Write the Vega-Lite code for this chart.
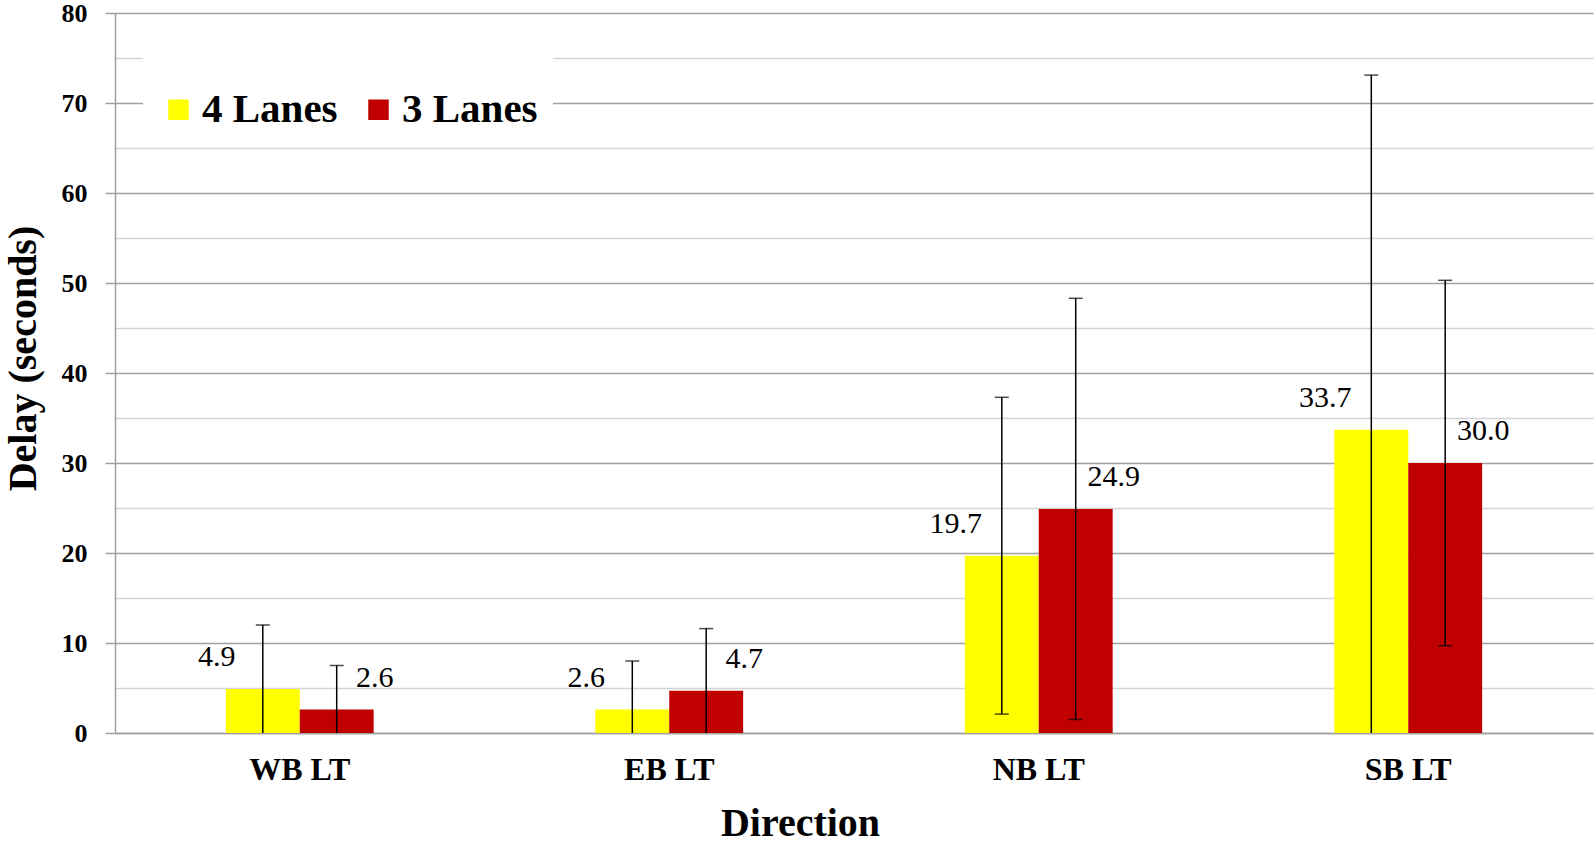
{
  "$schema": "https://vega.github.io/schema/vega-lite/v6.json",
  "width": 1478,
  "height": 720,
  "autosize": {"type": "none"},
  "padding": {"left": 115, "top": 13, "right": 1, "bottom": 113},
  "background": "white",
  "config": {"view": {"stroke": null}, "font": "Liberation Serif"},
  "data": {
    "values": [
      {"direction": "WB LT", "lanes": "4 Lanes", "delay": 4.9, "lo": 0, "hi": 12.0},
      {"direction": "WB LT", "lanes": "3 Lanes", "delay": 2.6, "lo": 0, "hi": 7.5},
      {"direction": "EB LT", "lanes": "4 Lanes", "delay": 2.6, "lo": 0, "hi": 8.0},
      {"direction": "EB LT", "lanes": "3 Lanes", "delay": 4.7, "lo": 0, "hi": 11.6},
      {"direction": "NB LT", "lanes": "4 Lanes", "delay": 19.7, "lo": 2.1, "hi": 37.3},
      {"direction": "NB LT", "lanes": "3 Lanes", "delay": 24.9, "lo": 1.5, "hi": 48.3},
      {"direction": "SB LT", "lanes": "4 Lanes", "delay": 33.7, "lo": 0, "hi": 73.1},
      {"direction": "SB LT", "lanes": "3 Lanes", "delay": 30.0, "lo": 9.7, "hi": 50.3}
    ]
  },
  "encoding": {
    "x": {
      "field": "direction",
      "type": "nominal",
      "sort": ["WB LT", "EB LT", "NB LT", "SB LT"],
      "scale": {"paddingInner": 0.6, "paddingOuter": 0.3},
      "axis": {
        "title": "Direction",
        "labelAngle": 0,
        "labelFont": "Liberation Serif",
        "labelFontSize": 32,
        "labelFontWeight": "bold",
        "labelColor": "black",
        "labelPadding": 21,
        "ticks": false,
        "domainColor": "#a0a0a0",
        "domainWidth": 1.5,
        "titleFont": "Liberation Serif",
        "titleFontSize": 40,
        "titleFontWeight": "bold",
        "titleColor": "black",
        "titleX": 685,
        "titleY": 102,
        "titleAlign": "center",
        "titleBaseline": "alphabetic"
      }
    },
    "xOffset": {
      "field": "lanes",
      "type": "nominal",
      "sort": ["4 Lanes", "3 Lanes"],
      "scale": {"paddingInner": 0, "paddingOuter": 0}
    }
  },
  "layer": [
    {
      "mark": {"type": "bar"},
      "encoding": {
        "y": {
          "field": "delay",
          "type": "quantitative",
          "scale": {"domain": [0, 80], "nice": false},
          "axis": {
            "title": "Delay (seconds)",
            "values": [0, 5, 10, 15, 20, 25, 30, 35, 40, 45, 50, 55, 60, 65, 70, 75, 80],
            "labelExpr": "datum.value % 10 === 0 ? datum.label : ''",
            "labelFont": "Liberation Serif",
            "labelFontSize": 26,
            "labelFontWeight": "bold",
            "labelColor": "black",
            "labelPadding": 18,
            "tickSize": 10,
            "tickWidth": 1.5,
            "tickColor": {"condition": {"test": "datum.value % 10 === 0", "value": "#a0a0a0"}, "value": "transparent"},
            "grid": true,
            "gridWidth": 1.5,
            "gridColor": {"condition": {"test": "datum.value % 10 === 0", "value": "#a0a0a0"}, "value": "#d4d4d4"},
            "domainColor": "#a0a0a0",
            "domainWidth": 1.5,
            "titleFont": "Liberation Serif",
            "titleFontSize": 40,
            "titleFontWeight": "bold",
            "titleColor": "black",
            "titleAngle": -90,
            "titleX": -92,
            "titleY": 345,
            "titleAlign": "center",
            "titleBaseline": "middle"
          }
        },
        "color": {
          "field": "lanes",
          "type": "nominal",
          "sort": ["4 Lanes", "3 Lanes"],
          "scale": {"domain": ["4 Lanes", "3 Lanes"], "range": ["#FFFF00", "#C00000"]},
          "legend": {
            "orient": "none",
            "legendX": 28,
            "legendY": 34,
            "direction": "horizontal",
            "title": " ",
            "titleFontSize": 22,
            "titlePadding": 5,
            "fillColor": "white",
            "padding": 15,
            "symbolType": "square",
            "symbolSize": 420,
            "symbolStrokeWidth": 0,
            "labelFont": "Liberation Serif",
            "labelFontSize": 41,
            "labelFontWeight": "bold",
            "labelColor": "black",
            "labelOffset": 3,
            "columnPadding": 20
          }
        }
      }
    },
    {
      "mark": {"type": "rule", "color": "black", "strokeWidth": 1.5},
      "encoding": {
        "y": {"field": "lo", "type": "quantitative"},
        "y2": {"field": "hi"}
      }
    },
    {
      "mark": {"type": "tick", "color": "black", "thickness": 1.5, "size": 14},
      "encoding": {
        "y": {"field": "hi", "type": "quantitative"}
      }
    },
    {
      "transform": [{"filter": "datum.lo > 0"}],
      "mark": {"type": "tick", "color": "black", "thickness": 1.5, "size": 14},
      "encoding": {
        "y": {"field": "lo", "type": "quantitative"}
      }
    },
    {
      "transform": [{"filter": "datum.lanes === '4 Lanes'"}],
      "mark": {"type": "text", "dx": -46, "dy": -32, "fontSize": 30, "font": "Liberation Serif", "color": "black", "baseline": "middle", "align": "center"},
      "encoding": {
        "y": {"field": "delay", "type": "quantitative"},
        "text": {"field": "delay", "type": "quantitative", "format": ".1f"}
      }
    },
    {
      "transform": [{"filter": "datum.lanes === '3 Lanes'"}],
      "mark": {"type": "text", "dx": 38, "dy": -32, "fontSize": 30, "font": "Liberation Serif", "color": "black", "baseline": "middle", "align": "center"},
      "encoding": {
        "y": {"field": "delay", "type": "quantitative"},
        "text": {"field": "delay", "type": "quantitative", "format": ".1f"}
      }
    }
  ]
}
